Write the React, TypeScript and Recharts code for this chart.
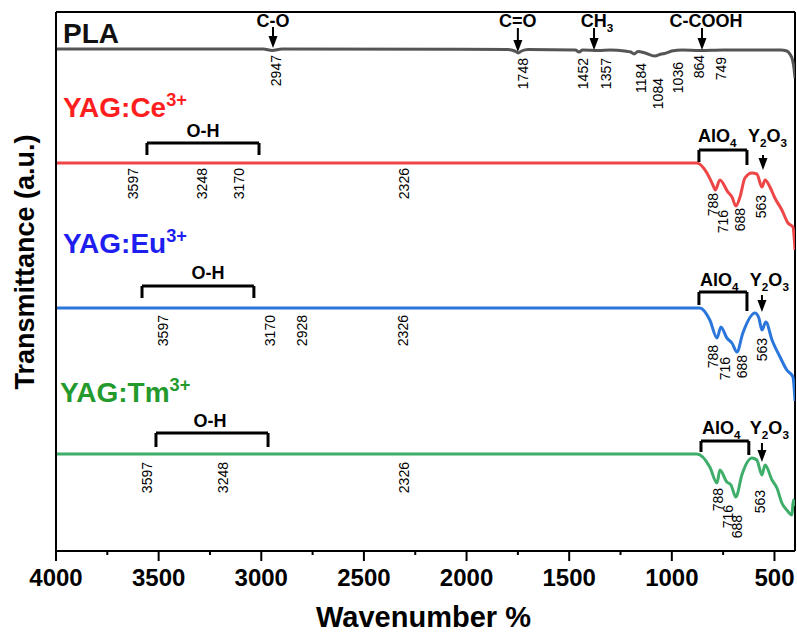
import React from 'react';
import { LineChart, Line, XAxis, YAxis, ReferenceLine, ReferenceDot } from 'recharts';

const FONT = '"Liberation Sans", Arial, Helvetica, sans-serif';

// wavenumber (cm-1) and stacked transmittance (a.u.)
const plaWave = [4000, 2990, 2947, 2900, 1800, 1765, 1748, 1732, 1700, 1470, 1452, 1435, 1357, 1300, 1230, 1200, 1184, 1165, 1130, 1084, 1050, 1036, 1000, 950, 864, 749, 600, 470, 440, 425, 412, 405, 400];
const plaT = [502, 502, 500.5, 502, 501.5, 500, 498, 500, 501.5, 501, 499, 501, 500.5, 501, 500, 499, 497, 499.5, 498, 495, 497, 497.5, 500, 501, 500.5, 501, 501, 501, 500, 497, 491, 483, 473];

const ceWave = [4000, 2000, 878, 829, 800, 788, 766, 727, 707, 688, 668, 644, 610, 586, 561, 546, 522, 498, 464, 434, 410, 400];
const ceT = [388, 388, 388, 378, 366, 361, 371, 359, 354, 345, 354, 373, 378, 377, 364, 371, 364, 353, 341, 328, 324, 301];

const euWave = [4000, 2000, 863, 815, 780, 761, 732, 707, 683, 654, 595, 576, 561, 542, 512, 473, 440, 410, 400];
const euT = [243, 243, 243, 231, 213, 224, 213, 208, 199, 218, 238, 233, 221, 229, 211, 194, 181, 174, 150];

const tmWave = [4000, 2000, 878, 815, 780, 766, 732, 712, 688, 659, 610, 586, 561, 546, 512, 488, 464, 440, 415, 408, 400];
const tmT = [97, 97, 97, 84, 68, 81, 69, 66, 54, 76, 93, 91, 76, 86, 71, 63, 48, 41, 36, 51, 45];

const xTicks = [4000, 3750, 3500, 3250, 3000, 2750, 2500, 2250, 2000, 1750, 1500, 1250, 1000, 750, 500];

// series names: [text, wave, T, color]
const sampleNames: [string, number, number, string][] = [
  ['PLA', 3966, 508, '#111'],
  ['YAG:Ce^3+', 3966, 434, '#ff1e1e'],
  ['YAG:Eu^3+', 3966, 298, '#1e1ef0'],
  ['YAG:Tm^3+', 3980, 149, '#249a2c'],
];

// rotated peak positions: [label, wave, T at top of label]
const peakLabels: [string, number, number][] = [
  ['2947', 2928, 496], ['1748', 1725, 493], ['1452', 1433, 493], ['1357', 1321, 493],
  ['1184', 1151, 488], ['1084', 1068, 473], ['1036', 970, 489], ['864', 868, 496], ['749', 761, 494],
  ['3597', 3625, 383], ['3248', 3289, 383], ['3170', 3109, 383], ['2326', 2305, 383],
  ['788', 800, 358], ['716', 751, 341], ['688', 668, 343], ['563', 566, 356],
  ['3597', 3479, 236], ['3170', 2958, 236], ['2928', 2802, 236], ['2326', 2310, 236],
  ['788', 800, 206], ['716', 741, 194], ['688', 659, 196], ['563', 561, 213],
  ['3597', 3557, 89], ['3248', 3187, 89], ['2326', 2305, 89],
  ['788', 775, 63], ['716', 727, 46], ['688', 683, 36], ['563', 571, 61],
];

// group names: [text, wave, T, anchor]
const bandNames: [string, number, number, string][] = [
  ['C-O', 2943, 524, 'middle'], ['C=O', 1750, 524, 'middle'], ['CH_3', 1365, 524, 'middle'], ['C-COOH', 834, 524, 'middle'],
  ['O-H', 3284, 414, 'middle'], ['O-H', 3260, 272, 'middle'], ['O-H', 3250, 124, 'middle'],
  ['AlO_4', 873, 409, 'start'], ['Y_2O_3', 629, 409, 'start'],
  ['AlO_4', 863, 265, 'start'], ['Y_2O_3', 620, 265, 'start'],
  ['AlO_4', 853, 117, 'start'], ['Y_2O_3', 620, 117, 'start'],
];

// brackets: [left wave, right wave, top T, left leg T, right leg T]
const brackets: [number, number, number, number, number][] = [
  [3557, 3011, 408, 396, 396], [3581, 3036, 265, 253, 253], [3513, 2967, 118, 104, 104],
  [868, 634, 401, 389, 386], [868, 634, 259, 246, 240], [858, 625, 110, 99, 96],
];

// arrows: [wave, top T, tip T]
const arrows: [number, number, number][] = [
  [2943, 524, 503], [1750, 523, 499], [1379, 523, 501], [853, 523, 501],
  [556, 396, 381], [561, 256, 239], [561, 108, 89],
];

const toRows = (w: number[], t: number[]) => w.map((x, i) => ({ w: x, t: t[i] }));

const series = [
  { name: 'PLA', data: toRows(plaWave, plaT), color: '#555555' },
  { name: 'YAG:Ce', data: toRows(ceWave, ceT), color: '#ee4546' },
  { name: 'YAG:Eu', data: toRows(euWave, euT), color: '#2b76da' },
  { name: 'YAG:Tm', data: toRows(tmWave, tmT), color: '#3eae6a' },
];

function rich(s: string, size: number) {
  const out: React.ReactNode[] = [];
  let shift = 0;
  s.split(/(_\d|\^\S+)/).filter(Boolean).forEach((part, i) => {
    let want = 0;
    let txt = part;
    let fs = size;
    if (part[0] === '_') { want = size * 0.3; txt = part.slice(1); fs = size * 0.65; }
    else if (part[0] === '^') { want = -size * 0.38; txt = part.slice(1); fs = size * 0.65; }
    out.push(<tspan key={i} dy={want - shift} fontSize={fs}>{txt}</tspan>);
    shift = want;
  });
  return out;
}

const XTick = (props: any) => {
  const { x, y, payload } = props;
  const major = payload.value % 500 === 0;
  return (
    <g>
      <line x1={x} x2={x} y1={y} y2={y + (major ? 10 : 4)} stroke="#000" strokeWidth={2} />
      {major && (
        <text x={x} y={y + 35} textAnchor="middle" fontFamily={FONT} fontWeight="bold" fontSize={24} fill="#000">
          {payload.value}
        </text>
      )}
    </g>
  );
};

const yTitle = (props: any) => {
  const vb = props.viewBox || { x: 0, y: 12, width: 56, height: 539 };
  const cx = vb.x + 25;
  const cy = vb.y + 250;
  return (
    <text x={cx} y={cy} transform={`rotate(-90, ${cx}, ${cy})`} textAnchor="middle" dominantBaseline="central"
      fontFamily={FONT} fontWeight="bold" fontSize={27} fill="#000">
      Transmittance (a.u.)
    </text>
  );
};

const xTitle = (props: any) => {
  const vb = props.viewBox || { x: 56, y: 551, width: 739, height: 84 };
  return (
    <text x={vb.x + vb.width / 2 - 2} y={vb.y + 76} textAnchor="middle" fontFamily={FONT} fontWeight="bold" fontSize={29} fill="#000">
      Wavenumber %
    </text>
  );
};

export default function App() {
  return (
    <div style={{ position: 'absolute', left: 0, top: 0, background: '#fff' }}>
      <LineChart width={797} height={635} margin={{ top: 12, right: 2, bottom: 0, left: 0 }}>
        <XAxis
          type="number"
          dataKey="w"
          domain={[400, 4000]}
          reversed
          allowDataOverflow
          ticks={xTicks}
          interval={0}
          tickSize={0}
          tickMargin={0}
          tickLine={false}
          tick={<XTick />}
          axisLine={{ stroke: '#000', strokeWidth: 2 }}
          height={84}
          label={xTitle}
        />
        <YAxis
          type="number"
          domain={[0, 539]}
          allowDataOverflow
          tick={false}
          tickLine={false}
          axisLine={{ stroke: '#000', strokeWidth: 2 }}
          width={56}
          label={yTitle}
        />
        <ReferenceLine y={539} stroke="#000" strokeWidth={2} />
        <ReferenceLine x={400} stroke="#000" strokeWidth={2} />

        {series.map(s => (
          <Line
            key={s.name}
            data={s.data}
            dataKey="t"
            type="monotone"
            stroke={s.color}
            strokeWidth={3}
            dot={false}
            activeDot={false}
            isAnimationActive={false}
          />
        ))}

        {brackets.map(([wl, wr, top, bl, br], i) => [
          <ReferenceLine key={`bt${i}`} segment={[{ x: wl, y: top }, { x: wr, y: top }]} stroke="#000" strokeWidth={3} />,
          <ReferenceLine key={`bl${i}`} segment={[{ x: wl, y: top }, { x: wl, y: bl }]} stroke="#000" strokeWidth={3} />,
          <ReferenceLine key={`br${i}`} segment={[{ x: wr, y: top }, { x: wr, y: br }]} stroke="#000" strokeWidth={3} />,
        ])}

        {arrows.map(([w, top, tip], i) => [
          <ReferenceLine key={`as${i}`} segment={[{ x: w, y: top }, { x: w, y: tip + 4 }]} stroke="#000" strokeWidth={2} />,
          <ReferenceDot key={`ah${i}`} x={w} y={tip} r={0}
            shape={(p: any) => (
              <polygon points={`${p.cx - 4.5},${p.cy - 12} ${p.cx + 4.5},${p.cy - 12} ${p.cx},${p.cy}`} fill="#000" />
            )}
          />,
        ])}

        {peakLabels.map(([txt, w, t], i) => (
          <ReferenceDot key={`pk${i}`} x={w} y={t} r={0}
            shape={(p: any) => (
              <text x={p.cx} y={p.cy} transform={`rotate(-90, ${p.cx}, ${p.cy})`} textAnchor="end" dominantBaseline="central"
                fontFamily={FONT} fontSize={14} fill="#000">
                {txt}
              </text>
            )}
          />
        ))}

        {bandNames.map(([txt, w, t, anchor], i) => (
          <ReferenceDot key={`bn${i}`} x={w} y={t} r={0}
            shape={(p: any) => (
              <text x={p.cx} y={p.cy} textAnchor={anchor} fontFamily={FONT} fontWeight="bold" fontSize={18} fill="#000">
                {rich(txt, 18)}
              </text>
            )}
          />
        ))}

        {sampleNames.map(([txt, w, t, color], i) => (
          <ReferenceDot key={`sn${i}`} x={w} y={t} r={0}
            shape={(p: any) => (
              <text x={p.cx} y={p.cy} textAnchor="start" fontFamily={FONT} fontWeight="bold" fontSize={28} fill={color}>
                {rich(txt, 28)}
              </text>
            )}
          />
        ))}
      </LineChart>
    </div>
  );
}
